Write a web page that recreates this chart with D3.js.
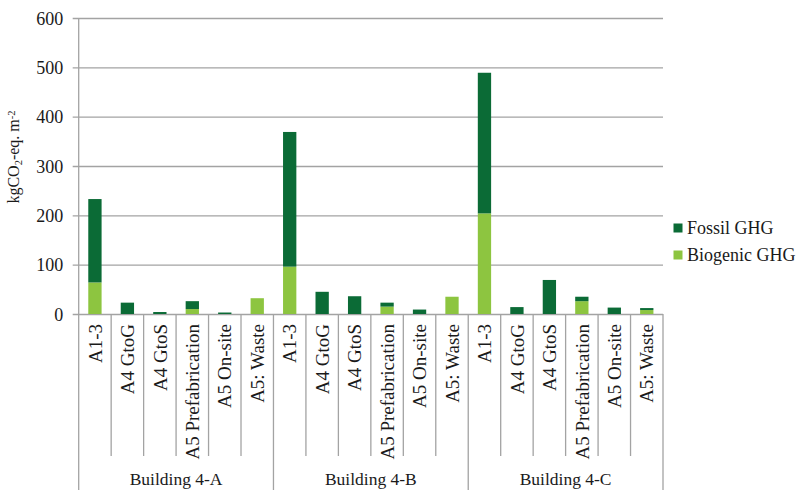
<!DOCTYPE html>
<html>
<head>
<meta charset="utf-8">
<script src="https://cdn.jsdelivr.net/npm/d3@7"></script>
<style>
  html, body { margin: 0; padding: 0; background: #fff; }
  svg { display: block; font-family: "Liberation Serif", "Times New Roman", serif; }
</style>
</head>
<body>
<svg id="chart" width="797" height="490"></svg>
<script>
// Embodied GHG emissions per life-cycle stage, grouped by building
const groups = ["Building 4-A", "Building 4-B", "Building 4-C"];
const stages = ["A1-3", "A4 GtoG", "A4 GtoS", "A5 Prefabrication", "A5 On-site", "A5: Waste"];
// values in kgCO2-eq./m2, listed stage by stage for 4-A, 4-B, 4-C
const biogenic = [64, 0, 0, 10, 0, 32,   96, 0, 0, 15, 0, 35,   204, 0, 0, 26, 0, 8];
const fossil   = [169, 23, 4, 16, 3, 0,  273, 45, 36, 8, 9, 0,  285, 14, 69, 9, 13, 4];
const yTicks = [0, 100, 200, 300, 400, 500, 600];
const seriesNames = ["Fossil GHG", "Biogenic GHG"];
const seriesColors = ["#0b6b36", "#8dc540"];

const svg = d3.select("#chart");
const plotLeft = 78.7, plotRight = 663, plotTop = 18, zeroY = 314;
const gridColor = "#a3a3a3";
const textColor = "#1a1a1a";
const serif = "'Liberation Serif', 'Times New Roman', serif";

// flat category list: one entry per building/stage pair
const rows = [];
groups.forEach((g, gi) => stages.forEach((s, si) => {
  const i = gi * stages.length + si;
  rows.push({ key: g + "|" + s, group: g, stage: s, Biogenic: biogenic[i], Fossil: fossil[i] });
}));

const x = d3.scaleBand().domain(rows.map(r => r.key)).range([plotLeft, plotRight]).paddingInner(0).paddingOuter(0);
const y = d3.scaleLinear().domain([0, 600]).range([zeroY, plotTop]);

// y axis with horizontal gridlines
const yAxis = d3.axisLeft(y).tickValues(yTicks).tickSize(0).tickPadding(0).tickFormat(d3.format("d"));
const yg = svg.append("g").attr("transform", `translate(${plotLeft},0)`).call(yAxis);
yg.attr("font-family", serif);
yg.select(".domain").remove();
yg.selectAll(".tick text")
  .attr("x", -15.5)
  .attr("dy", "0.34em")
  .attr("fill", textColor)
  .style("font-size", "18px");
yg.selectAll(".tick line")
  .attr("x1", -6)
  .attr("x2", plotRight - plotLeft)
  .attr("stroke", gridColor)
  .attr("stroke-width", 1.3);

// stacked bars: biogenic at the base, fossil on top
const stack = d3.stack().keys(["Biogenic", "Fossil"]);
const layers = stack(rows);
const barW = x.bandwidth() * 0.41;
const colorFor = { Fossil: seriesColors[0], Biogenic: seriesColors[1] };

svg.append("g").selectAll("g")
  .data(layers)
  .join("g")
  .attr("fill", d => colorFor[d.key])
  .selectAll("rect")
  .data(d => d)
  .join("rect")
  .attr("x", d => x(d.data.key) + (x.bandwidth() - barW) / 2)
  .attr("width", barW)
  .attr("y", d => y(d[1]))
  .attr("height", d => y(d[0]) - y(d[1]));

// left axis line, running down through the category area
svg.append("line")
  .attr("x1", plotLeft).attr("x2", plotLeft)
  .attr("y1", plotTop).attr("y2", 490)
  .attr("stroke", gridColor).attr("stroke-width", 1.3);

// category separators; building boundaries run to the bottom edge
const boundaries = d3.range(1, rows.length + 1);
svg.append("g").selectAll("line")
  .data(boundaries)
  .join("line")
  .attr("x1", i => i < rows.length ? x(rows[i].key) : plotRight)
  .attr("x2", i => i < rows.length ? x(rows[i].key) : plotRight)
  .attr("y1", zeroY)
  .attr("y2", i => (i % stages.length === 0) ? 490 : 456)
  .attr("stroke", gridColor)
  .attr("stroke-width", 1.3);

// rotated stage labels
svg.append("g").selectAll("text")
  .data(rows)
  .join("text")
  .attr("transform", d => `translate(${x(d.key) + x.bandwidth() / 2},324) rotate(-90)`)
  .attr("text-anchor", "end")
  .attr("dy", "0.35em")
  .attr("fill", textColor)
  .style("font-family", serif)
  .style("font-size", "19px")
  .text(d => d.stage);

// building labels
svg.append("g").selectAll("text")
  .data(groups)
  .join("text")
  .attr("x", g => {
    const a = x(g + "|" + stages[0]);
    const b = x(g + "|" + stages[stages.length - 1]) + x.bandwidth();
    return (a + b) / 2;
  })
  .attr("y", 485)
  .attr("text-anchor", "middle")
  .attr("fill", textColor)
  .style("font-family", serif)
  .style("font-size", "17.5px")
  .text(d => d);

// y axis title with subscript and superscript
const yt = svg.append("text")
  .attr("transform", "translate(19,157) rotate(-90)")
  .attr("text-anchor", "middle")
  .attr("fill", textColor)
  .style("font-family", serif)
  .style("font-size", "16px");
yt.append("tspan").text("kgCO");
yt.append("tspan").attr("baseline-shift", "-25%").style("font-size", "10.5px").text("2");
yt.append("tspan").text("-eq. m");
yt.append("tspan").attr("baseline-shift", "40%").style("font-size", "10.5px").text("-2");

// legend
const legend = svg.append("g");
seriesNames.forEach((name, i) => {
  const cy = 228 + i * 27;
  legend.append("rect")
    .attr("x", 673.5).attr("y", cy - 4.5)
    .attr("width", 9).attr("height", 9)
    .attr("fill", seriesColors[i]);
  legend.append("text")
    .attr("x", 687).attr("y", cy)
    .attr("dy", "0.35em")
    .attr("fill", textColor)
    .style("font-family", serif)
    .style("font-size", "18px")
    .text(name);
});
</script>
</body>
</html>
